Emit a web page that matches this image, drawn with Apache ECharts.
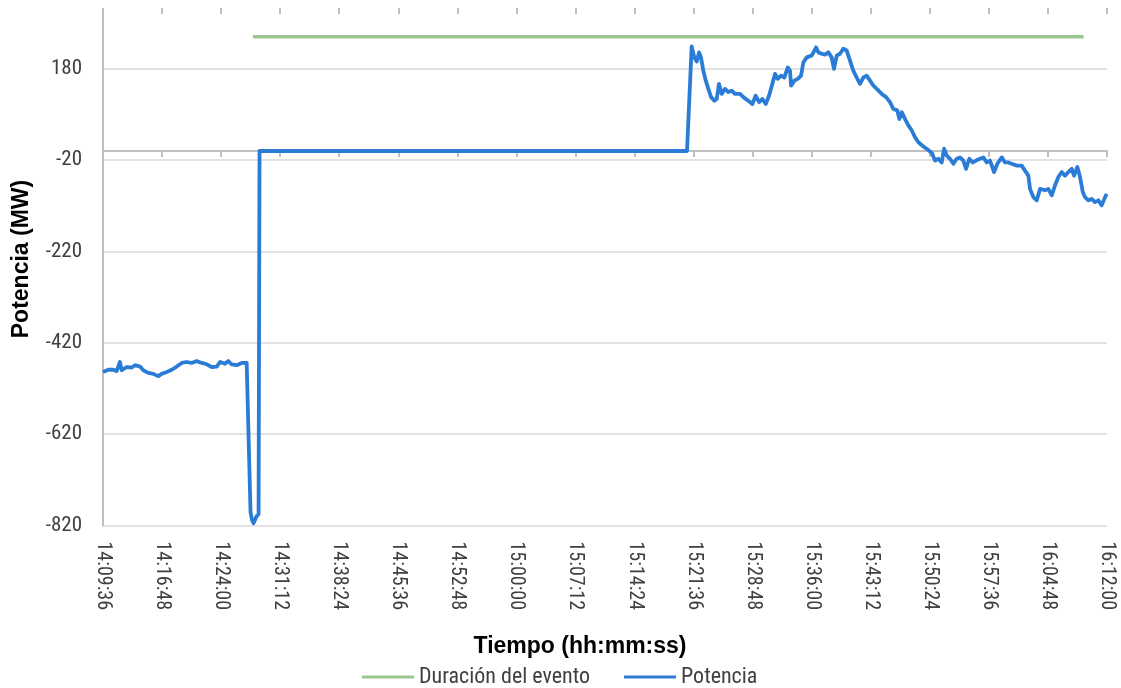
<!DOCTYPE html>
<html>
<head>
<meta charset="utf-8">
<script src="https://cdn.jsdelivr.net/npm/echarts@6/dist/echarts.min.js"></script>
<style>
html,body{margin:0;padding:0;background:#ffffff;}
#chart{width:1121px;height:688px;}
</style>
</head>
<body>
<div id="chart"></div>
<script>
// Time in seconds since midnight, values in MW
const potenciaTiempo = [
  50976,51015,51051,51076,51100,51113,51149,51186,51210,51247,51271,51307,51344,51381,51405,51442,
  51479,51515,51552,51588,51625,51661,51698,51735,51771,51808,51832,51868,51893,51917,51954,51991,
  52027,52040,52055,52066,52077,52099,52114,52121,55248,
  55282,55301,55319,55336,55350,55367,55385,55404,55424,55448,55465,55482,55502,55526,55550,55575,
  55599,55636,55660,55696,55726,55750,55775,55799,55824,55848,55872,55892,55911,55936,55960,55985,
  56001,56009,56033,56058,56082,56099,56124,56160,56192,56208,56233,56257,56282,56306,56323,56343,
  56367,56391,56416,56440,56464,56489,56513,56538,56562,56587,56611,56636,56672,56704,56733,56757,
  56786,56801,56819,56843,56867,56892,56916,56940,56977,57013,57040,57062,57086,57111,57128,57148,
  57172,57196,57221,57245,57269,57289,57313,57338,57362,57391,57415,57440,57464,57494,57518,57550,
  57574,57598,57623,57660,57696,57720,57745,57757,57781,57806,57830,57867,57891,57916,57940,57964,
  57989,58013,58037,58062,58079,58103,58123,58143,58159,58184,58208,58232,58257,58281,58306,58318
];
const potenciaValor = [
  -484,-479,-479,-482,-462,-480,-473,-474,-469,-472,-480,-486,-488,-493,-488,-484,
  -479,-472,-464,-462,-464,-460,-464,-467,-473,-472,-462,-466,-460,-467,-469,-464,
  -464,-466,-790,-808,-815,-800,-795,0,0,
  229,205,196,216,205,176,154,136,118,110,114,147,125,136,129,132,
  125,125,118,110,103,121,107,114,103,121,147,169,158,165,161,183,
  176,143,154,158,165,194,205,209,227,216,213,211,216,205,180,209,
  213,224,220,198,176,161,147,161,165,154,143,136,125,118,107,92,
  89,70,85,70,56,45,30,19,10,2,-5,-21,-17,-25,5,-10,
  -17,-28,-17,-14,-21,-39,-17,-25,-21,-17,-14,-25,-21,-46,-28,-14,
  -25,-25,-28,-32,-32,-43,-54,-83,-101,-108,-83,-86,-83,-97,-75,-57,
  -46,-54,-46,-39,-54,-35,-57,-90,-101,-108,-105,-112,-108,-119,-101,-94
];
const eventoTiempo = [52073, 58149];
const eventoValor = [250, 250];

const xMin = 50976, xMax = 58320, xStep = 432;   // 14:09:36 .. 16:12:00 every 7:12
const yMin = -820, yMax = 300, yStep = 200;

const narrow = "'Roboto Condensed','Liberation Sans Narrow','Arial Narrow',sans-serif";

function hms(s){
  s = Math.round(s);
  const h = Math.floor(s/3600), m = Math.floor((s%3600)/60), sec = s%60;
  const p = n => (n<10?'0':'')+n;
  return h+':'+p(m)+':'+p(sec);
}

const chart = echarts.init(document.getElementById('chart'), null, {renderer:'canvas'});
const option = {
  animation:false,
  backgroundColor:'#ffffff',
  grid:{left:103, right:14, top:14, bottom:162.5, containLabel:false, outerBoundsMode:'none'},
  legend:{
    left:362, top:666, padding:0,
    itemWidth:52, itemHeight:3, itemGap:34,
    icon:'rect',
    textStyle:{fontFamily:narrow, fontSize:22, color:'#404040'},
    data:['Duración del evento','Potencia']
  },
  graphic:[
    {type:'text', x:580, y:647, style:{text:'Tiempo (hh:mm:ss)', font:"bold 23px 'Liberation Sans', Arial, sans-serif", fill:'#000', align:'center', verticalAlign:'middle'}},
    {type:'text', x:22, y:259, rotation:Math.PI/2, style:{text:'Potencia (MW)', font:"bold 23px 'Liberation Sans', Arial, sans-serif", fill:'#000', align:'center', verticalAlign:'middle'}}
  ],
  xAxis:[
    {
      type:'value', min:xMin, max:xMax, interval:xStep, position:'bottom',
      axisLine:{show:true, onZero:true, lineStyle:{color:'#bfbfbf', width:2}},
      axisTick:{show:true, inside:false, length:6, lineStyle:{color:'#bfbfbf', width:2}},
      axisLabel:{show:true, rotate:-90, margin:16, formatter:v=>hms(v), fontFamily:narrow, fontSize:20, color:'#404040'},
      splitLine:{show:false}
    },
    {
      type:'value', min:xMin, max:xMax, interval:xStep, position:'top',
      axisLine:{show:false, onZero:true},
      axisTick:{show:true, inside:false, length:6, lineStyle:{color:'#bfbfbf', width:2}},
      axisLabel:{show:false},
      splitLine:{show:false}
    }
  ],
  yAxis:{
    type:'value', min:yMin, max:yMax, interval:yStep,
    axisLine:{show:true, onZero:false, lineStyle:{color:'#bfbfbf', width:2}},
    axisTick:{show:false},
    axisLabel:{margin:21, fontFamily:narrow, fontSize:21, color:'#404040', showMaxLabel:false},
    splitLine:{show:true, showMaxLine:false, lineStyle:{color:'#d9d9d9', width:1.5}}
  },
  series:[
    {
      name:'Duración del evento', type:'line', xAxisIndex:0, yAxisIndex:0,
      data:eventoTiempo.map((t,i)=>[t, eventoValor[i]]),
      showSymbol:false, symbol:'none',
      lineStyle:{color:'#9cc68f', width:3.5}, itemStyle:{color:'#9cc68f'}
    },
    {
      name:'Potencia', type:'line', xAxisIndex:0, yAxisIndex:0,
      data:potenciaTiempo.map((t,i)=>[t, potenciaValor[i]]),
      showSymbol:false, symbol:'none',
      lineStyle:{color:'#2b7cd6', width:3.8, join:'round'}, itemStyle:{color:'#2b7cd6'}
    }
  ]
};
chart.setOption(option);
</script>
</body>
</html>
